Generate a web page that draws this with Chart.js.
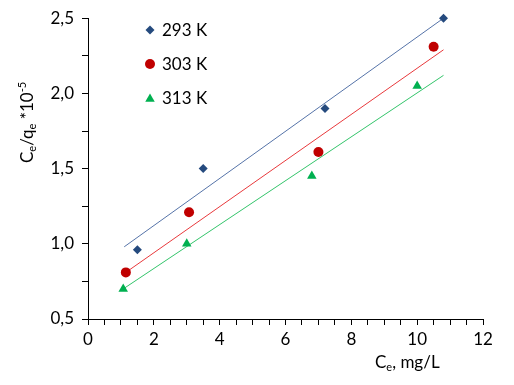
<!DOCTYPE html>
<html>
<head>
<meta charset="utf-8">
<script src="https://cdn.jsdelivr.net/npm/chart.js@4/dist/chart.umd.min.js"></script>
<style>
  html, body { margin: 0; padding: 0; background: #fff; }
  #wrap { width: 514px; height: 385px; }
</style>
</head>
<body>
<div id="wrap"><canvas id="chart" width="514" height="385"></canvas></div>
<script>
// Measured points, Ce (mg/L) vs Ce/qe *10^-5, one set per temperature
const labels = ["293 K", "303 K", "313 K"];
const ce293 = [1.5, 3.5, 7.2, 10.8];
const ratio293 = [0.96, 1.5, 1.9, 2.5];
const ce303 = [1.15, 3.07, 7.0, 10.5];
const ratio303 = [0.81, 1.21, 1.61, 2.31];
const ce313 = [1.07, 3.0, 6.8, 10.0];
const ratio313 = [0.70, 1.0, 1.45, 2.05];

// Linear fit lines, end points
const fitX293 = [1.1, 10.8];
const fitY293 = [0.98, 2.50];
const fitX303 = [1.15, 10.8];
const fitY303 = [0.81, 2.29];
const fitX313 = [1.07, 10.8];
const fitY313 = [0.70, 2.12];

const FONT = "Lato, 'Open Sans', sans-serif";

function pts(xs, ys) {
    return xs.map((x, i) => ({ x, y: ys[i] }));
}

function fitLine(xs, ys, color) {
    return {
        type: "line",
        data: pts(xs, ys),
        borderColor: color,
        borderWidth: 1,
        pointRadius: 0,
        fill: false,
        tension: 0,
        clip: false,
        order: 2,
    };
}

function markers(label, xs, ys, color, style, r) {
    return {
        label,
        type: "scatter",
        data: pts(xs, ys),
        backgroundColor: color,
        borderColor: color,
        borderWidth: 0,
        pointStyle: style,
        pointRadius: r,
        clip: false,
        order: 1,
    };
}

// draws a run of text pieces; sub/sup pieces get a smaller font and shifted baseline
function drawRich(ctx, parts, x, y, size) {
    let cx = x;
    for (const p of parts) {
        const s = p.sub || p.sup ? Math.round(size * 0.65) : size;
        ctx.font = `${s}px ${FONT}`;
        const dy = p.sub ? 3 : p.sup ? -7 : 0;
        ctx.fillText(p.t, cx, y + dy);
        cx += ctx.measureText(p.t).width;
    }
}

const annotate = {
    id: "annotate",
    afterDraw(chart) {
        const ctx = chart.ctx;
        ctx.save();
        ctx.fillStyle = "#000";
        ctx.textBaseline = "alphabetic";
        ctx.textAlign = "left";

        // x axis title
        drawRich(ctx, [{ t: "C" }, { t: "e", sub: true }, { t: ", mg/L" }], 375, 368, 17);

        // y axis title, rotated
        ctx.save();
        ctx.translate(33, 163);
        ctx.rotate(-Math.PI / 2);
        drawRich(ctx, [
            { t: "C" }, { t: "e", sub: true }, { t: "/q" }, { t: "e", sub: true },
            { t: " *10" }, { t: "-5", sup: true },
        ], 0, 0, 17);
        ctx.restore();

        // legend in the top left of the plot
        const sets = chart.data.datasets.filter(d => d.label);
        sets.forEach((d, i) => {
            const y = 30 + i * 34;
            ctx.fillStyle = d.backgroundColor;
            ctx.strokeStyle = d.borderColor;
            Chart.helpers.drawPoint(ctx, {
                pointStyle: d.pointStyle,
                radius: d.pointRadius,
                rotation: 0,
                borderWidth: 0,
            }, 150, d.pointStyle === "triangle" ? y + 1 : y);
            ctx.fillStyle = "#000";
            ctx.font = `17px ${FONT}`;
            ctx.textBaseline = "middle";
            ctx.fillText(d.label, 162, y + 1);
        });
        ctx.restore();
    },
};

new Chart(document.getElementById("chart"), {
    type: "scatter",
    data: {
        datasets: [
            fitLine(fitX293, fitY293, "#5573a8"),
            fitLine(fitX303, fitY303, "#e8393c"),
            fitLine(fitX313, fitY313, "#33c46a"),
            markers(labels[0], ce293, ratio293, "#254a7e", "rectRot", 4.5),
            markers(labels[1], ce303, ratio303, "#c00000", "circle", 5),
            markers(labels[2], ce313, ratio313, "#00b050", "triangle", 5.5),
        ],
    },
    options: {
        responsive: false,
        animation: false,
        devicePixelRatio: 1,
        layout: { padding: { top: 14, right: 31, left: 0, bottom: 0 } },
        plugins: {
            legend: { display: false },
            tooltip: { enabled: false },
            title: { display: false },
        },
        scales: {
            x: {
                type: "linear",
                min: 0,
                max: 12,
                afterFit: s => { s.height = 66; },
                ticks: {
                    stepSize: 0.5,
                    autoSkip: false,
                    maxRotation: 0,
                    padding: 4,
                    color: "#000",
                    font: { family: FONT, size: 17 },
                    callback: v => (Math.abs(v % 2) < 1e-6 ? String(v) : ""),
                },
                grid: { drawOnChartArea: false, tickLength: 6, color: "#000" },
                border: { color: "#000", width: 1 },
            },
            y: {
                min: 0.5,
                max: 2.5,
                afterFit: s => { s.width = 88; },
                ticks: {
                    stepSize: 0.25,
                    autoSkip: false,
                    padding: 8,
                    color: "#000",
                    font: { family: FONT, size: 17 },
                    callback: v => {
                        const twice = v * 2;
                        return Math.abs(twice - Math.round(twice)) < 1e-6
                            ? v.toFixed(1).replace(".", ",")
                            : "";
                    },
                },
                grid: { drawOnChartArea: false, tickLength: 6, color: "#000" },
                border: { color: "#000", width: 1 },
            },
        },
    },
    plugins: [annotate],
});
</script>
</body>
</html>
